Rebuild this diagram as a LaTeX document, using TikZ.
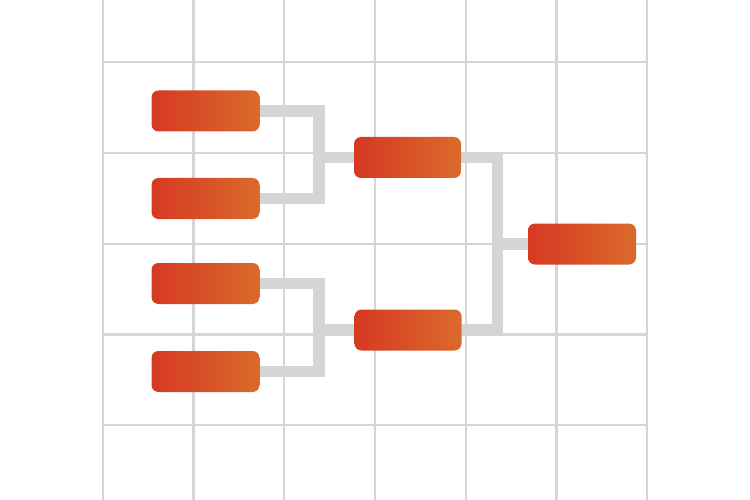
\documentclass[tikz,border=0pt]{standalone}
\usetikzlibrary{backgrounds}
\definecolor{gridc}{HTML}{D5D5D7}
\definecolor{connc}{HTML}{D4D5D7}
\definecolor{boxl}{HTML}{D63923}
\definecolor{boxr}{HTML}{DA6A2B}
\begin{document}
\begin{tikzpicture}[x=1pt,y=-1pt,
  team/.style={rectangle,rounded corners=7pt,minimum width=108pt,minimum height=41pt,
    inner sep=0pt,left color=boxl,right color=boxr,draw=none},
  gridline/.style={draw=gridc,line width=2.6pt},
  conn/.style={draw=connc,line width=11.5pt,line cap=butt,line join=miter}]
\useasboundingbox (0,0) rectangle (750,500);
\begin{scope}[on background layer]
\fill[white] (0,0) rectangle (750,500);
\foreach \gx in {103,193.5,284,375,466,556.5,647}
  \draw[gridline] (\gx,0) -- (\gx,500);
\foreach \gy in {62,153,244,334.5,425}
  \draw[gridline] (103,\gy) -- (647,\gy);
\end{scope}
% nodes
\node[team] (b1) at (205.5,111) {};
\node[team] (b2) at (205.5,198.5) {};
\node[team] (b3) at (205.5,283.5) {};
\node[team] (b4) at (205.5,371.5) {};
\node[team,minimum width=107pt] (m1) at (407.5,157.5) {};
\node[team,minimum width=107pt] (m2) at (408,330) {};
\node[team] (f) at (582,244) {};
\coordinate (j1) at (319,0);
\coordinate (j2) at (497.5,0);
\begin{scope}[on background layer]
\draw[conn] (b1.east) -- (b1.east -| j1) |- (b2.east);
\draw[conn] (m1.west) -- (m1.west -| j1);
\draw[conn] (b3.east) -- (b3.east -| j1) |- (b4.east);
\draw[conn] (m2.west) -- (m2.west -| j1);
\draw[conn] (m1.east) -- (m1.east -| j2) |- (m2.east);
\draw[conn] (f.west) -- (f.west -| j2);
\end{scope}
\end{tikzpicture}
\end{document}
